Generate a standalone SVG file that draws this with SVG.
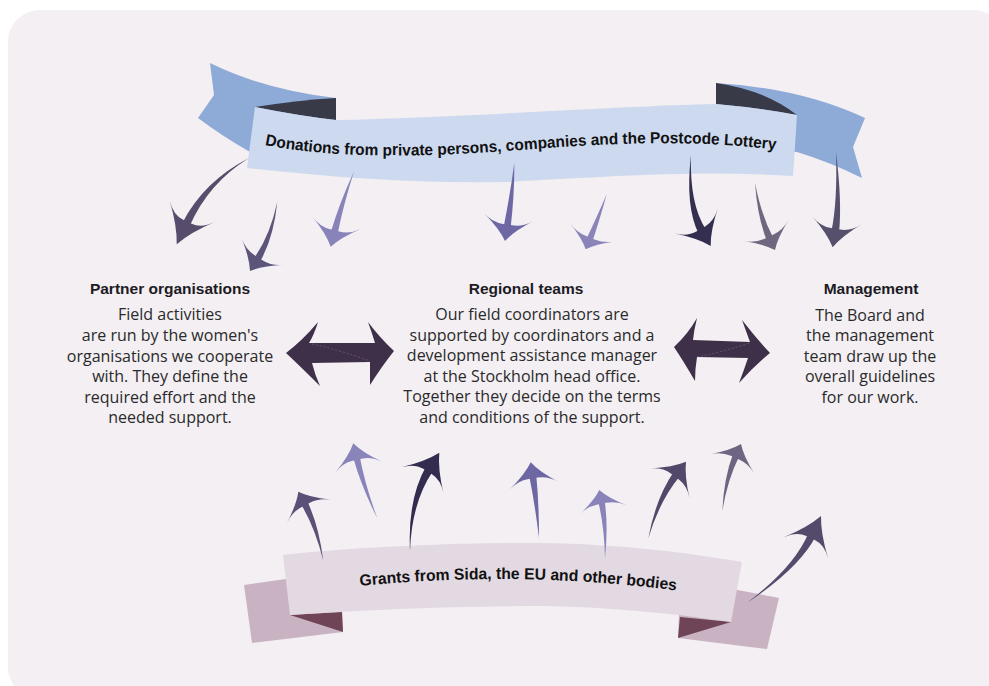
<svg xmlns="http://www.w3.org/2000/svg" width="989" height="686" viewBox="0 0 989 686">
<defs>
<style>
.ttl{font-family:"Liberation Sans",Arial,sans-serif;font-weight:bold;font-size:15.5px;fill:#1c1b24;text-anchor:middle}
.bd{font-family:"Open Sans","Liberation Sans",sans-serif;font-size:16px;fill:#2a2a2a;text-anchor:middle}
.bn{font-family:"Liberation Sans",Arial,sans-serif;font-weight:bold;font-size:16px;fill:#111}
.dbl{fill:#3f304a}
.hl{fill:none;stroke:#8a7a96;stroke-width:0.7;stroke-dasharray:2 2;opacity:0.7}
</style>
<path id="hd" d="M-24,-4.5 Q-24,-15 -35,-24 Q-16,-7 0,0 Q-16,7 -35,24 Q-24,15 -24,4.5 Z"/>
<path id="tp1" d="M265,145 C330,158 420,158 520,150 C620,142 700,140 778,150 L810,156"/>
<path id="tp2" d="M360,586 Q520,570 680,591 L720,597"/>
</defs>
<rect x="8" y="10" width="997" height="689" rx="32" fill="#f3eff3"/>

<g id="donations">
<path fill="#8eaad7" d="M210,63 Q265,90 336,98 L336,125 L250,152 Q222,136 198,118 L214,95 Z"/>
<path fill="#8eaad7" d="M716,83 Q800,88 865,118 L853,147 L862,178 Q830,162 797,152 L760,150 L716,110 Z"/>
<path fill="#383a48" d="M255,107 Q300,100 336,98 L336,120 Q300,116 255,107 Z"/>
<path fill="#383a48" d="M716,83 Q765,90 797,115 Q760,108 716,104 Z"/>
<path fill="#cdd9ef" d="M255,107 Q300,116 336,120 C450,118 620,106 716,104 Q760,108 797,115 L793,176 C700,170 620,176 506,182 C420,184 330,177 247,168 Z"/>
<text class="bn"><textPath href="#tp1" textLength="512" lengthAdjust="spacingAndGlyphs">Donations from private persons, companies and the Postcode Lottery</textPath></text>
</g>

<g id="grants">
<path fill="#c9b3c2" d="M244,585 L300,577 L342,575 L342,612 L343,632 L252,643 Z"/>
<path fill="#c9b3c2" d="M680,590 L727,588 L779,598 L767,649 L678,638 Z"/>
<path fill="#6f4457" d="M290,615 L342,612 L343,632 Z"/>
<path fill="#6f4457" d="M678,638 L680,617 L731,622 Z"/>
<path fill="#e3d9e2" d="M283,555 C330,549 450,542 540,543 C620,544 690,553 742,562 L731,622 C690,616 620,607 540,606 C450,606 360,610 290,615 Z"/>
<text class="bn"><textPath href="#tp2" textLength="317" lengthAdjust="spacingAndGlyphs">Grants from Sida, the EU and other bodies</textPath></text>
</g>

<g id="partner">
<text class="ttl" x="170" y="294">Partner organisations</text>
<text class="bd" x="170" y="320">Field activities</text>
<text class="bd" x="170" y="341">are run by the women's</text>
<text class="bd" x="170" y="362">organisations we cooperate</text>
<text class="bd" x="170" y="382">with. They define the</text>
<text class="bd" x="170" y="403">required effort and the</text>
<text class="bd" x="170" y="423">needed support.</text>
</g>

<g id="regional">
<text class="ttl" x="526" y="293.5">Regional teams</text>
<text class="bd" x="532" y="320">Our field coordinators are</text>
<text class="bd" x="532" y="340.7">supported by coordinators and a</text>
<text class="bd" x="532" y="361">development assistance manager</text>
<text class="bd" x="532" y="381.7">at the Stockholm head office.</text>
<text class="bd" x="532" y="402">Together they decide on the terms</text>
<text class="bd" x="532" y="422.7">and conditions of the support.</text>
</g>

<g id="management">
<text class="ttl" x="871" y="294">Management</text>
<text class="bd" x="870" y="320.7">The Board and</text>
<text class="bd" x="870" y="341">the management</text>
<text class="bd" x="870" y="361.7">team draw up the</text>
<text class="bd" x="870" y="382">overall guidelines</text>
<text class="bd" x="870" y="402.7">for our work.</text>
</g>

<g id="connectors">
<g fill="#574c6c"><path d="M249,158 Q203.8,181.3 182.5,222.7 L189.7,226.1 Q208.2,183.3 249,158 Z"/><use href="#hd" transform="translate(176.7,244.3) rotate(115.3) scale(1.04,1.04)"/></g>
<g fill="#5d547a"><path d="M277.3,201.7 Q270.1,235.6 254,258.3 L259.8,262.1 Q273.7,237.8 277.3,201.7 Z"/><use href="#hd" transform="translate(250,271) rotate(122.6) scale(0.66,1.03)"/></g>
<g fill="#8884b9"><path d="M354,171.5 Q340,201.4 330.7,232.4 L337.5,234.2 Q344,202.4 354,171.5 Z"/><use href="#hd" transform="translate(330.7,246.7) rotate(104.1) scale(0.70,1.03)"/></g>
<g fill="#6d68a5"><path d="M514.3,163 Q510.4,192.8 503.6,227.2 L510.6,228.2 Q514.6,193.4 514.3,163 Z"/><use href="#hd" transform="translate(505,241) rotate(98.9) scale(0.69,1.04)"/></g>
<g fill="#8b84b8"><path d="M606.7,194.3 Q595.8,219.4 586.3,239.3 L592.3,241.7 Q599.4,220.8 606.7,194.3 Z"/><use href="#hd" transform="translate(585.7,249.3) rotate(112) scale(0.52,1.0)"/></g>
<g fill="#352f4f"><path d="M691,155 Q685,206.9 698.7,233.7 L705.9,229.5 Q689.4,204.3 691,155 Z"/><use href="#hd" transform="translate(710.7,246) rotate(59.9) scale(0.82,1.03)"/></g>
<g fill="#716680"><path d="M755,182.7 Q757.3,216.7 766.9,240.9 L773.3,237.9 Q761.1,214.9 755,182.7 Z"/><use href="#hd" transform="translate(775,250) rotate(65.2) scale(0.61,1.03)"/></g>
<g fill="#56506c"><path d="M836,152 Q837.6,201.8 831.4,231.2 L839,232.4 Q842.2,202.6 836,152 Z"/><use href="#hd" transform="translate(832.7,247.3) rotate(99.1) scale(0.78,1.04)"/></g>

<g fill="#5a5078"><path d="M323.3,560.7 Q318.9,525.7 307.1,500.8 L300.9,504 Q315.1,527.7 323.3,560.7 Z"/><use href="#hd" transform="translate(298.3,491.7) rotate(-118.1) scale(0.63,1.02)"/></g>
<g fill="#8985ba"><path d="M377.3,518.3 Q364.9,484.7 359.6,456.1 L353.2,457.5 Q360.9,485.5 377.3,518.3 Z"/><use href="#hd" transform="translate(353.3,443.3) rotate(-102.9) scale(0.70,1.0)"/></g>
<g fill="#342c4e"><path d="M410,550.7 Q411.7,502.3 433,471.1 L425.8,466.7 Q407.5,499.7 410,550.7 Z"/><use href="#hd" transform="translate(439.3,452.7) rotate(-58.4) scale(0.92,1.03)"/></g>
<g fill="#6d67a4"><path d="M539,538 Q539,502.7 536.2,474.8 L529.2,475.8 Q534.8,503.3 539,538 Z"/><use href="#hd" transform="translate(530.7,462.3) rotate(-98.6) scale(0.67,1.02)"/></g>
<g fill="#8a83b9"><path d="M605,558.3 Q608.4,525.9 604.6,500.2 L598.2,501.4 Q604.4,526.7 605,558.3 Z"/><use href="#hd" transform="translate(599.3,490) rotate(-101) scale(0.58,1.0)"/></g>
<g fill="#51486a"><path d="M648.3,538.3 Q659.5,500.8 679.6,476.5 L673.6,471.9 Q655.9,498 648.3,538.3 Z"/><use href="#hd" transform="translate(686,461.7) rotate(-53.1) scale(0.77,1.03)"/></g>
<g fill="#6f6481"><path d="M722.3,511 Q727.5,479.5 739.2,456.2 L733.2,453.6 Q723.9,477.9 722.3,511 Z"/><use href="#hd" transform="translate(741,444) rotate(-66.2) scale(0.62,1.0)"/></g>
<g fill="#544a6b"><path d="M747.3,602.7 Q798.7,568.6 815.5,536.8 L808.3,533.4 Q794.3,566.6 747.3,602.7 Z"/><use href="#hd" transform="translate(821,516) rotate(-64.6) scale(1.01,1.03)"/></g>

<path class="dbl" d="M286,353 Q303,340 318,322 Q314,335 309,343 L375,343 Q372,333 368,322 Q380,338 394,351 Q382,366 370,385 Q370,372 370,362 L312,363 Q315,375 320,386 Q302,368 286,353 Z"/>
<path class="hl" d="M312,344 Q340,350 370,361"/>
<path class="dbl" d="M674,347 Q688,334 697,318 Q694,330 693,340 L750,342 Q746,331 742,320 Q756,338 770,353 Q754,366 739,383 Q744,370 748,358 L697,357 Q695,369 695,381 Q684,362 674,347 Z"/>
<path class="hl" d="M697,357 Q722,352 750,343"/>
</g>
</svg>
